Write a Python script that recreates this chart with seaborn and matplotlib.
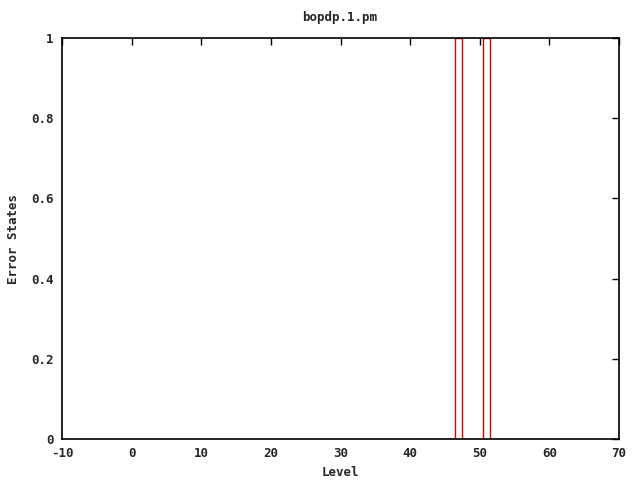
import matplotlib
matplotlib.use("Agg")
import matplotlib.pyplot as plt
import seaborn as sns
import pandas as pd

title = "bopdp.1.pm"
levels = list(range(40, 61))
errors = [0, 0, 0, 0, 0, 0, 0, 1, 0, 0, 0, 1, 0, 0, 0, 0, 0, 0, 0, 0, 0]
xticks = [-10, 0, 10, 20, 30, 40, 50, 60, 70]
yticks = [0, 0.2, 0.4, 0.6, 0.8, 1]
ytick_labels = ["0", "0.2", "0.4", "0.6", "0.8", "1"]

sns.set_style("white")
plt.rcParams["font.family"] = ["DejaVu Sans Mono"]
plt.rcParams["font.weight"] = "bold"

df = pd.DataFrame({"Level": levels, "Error States": errors})

fig = plt.figure(figsize=(6.4, 4.8), dpi=100)
ax = fig.add_axes([62 / 640, 1 - 439 / 480, 557 / 640, 401 / 480])
sns.lineplot(data=df, x="Level", y="Error States", ax=ax, color="#cc0000",
             linewidth=1.0, drawstyle="steps-mid", zorder=1)

ax.set_xlim(-10, 70)
ax.set_ylim(0, 1)
ax.set_xticks(xticks)
ax.set_xticklabels([str(t) for t in xticks])
ax.set_yticks(yticks)
ax.set_yticklabels(ytick_labels)
ax.tick_params(direction="in", length=5, width=1, top=True, right=True,
               labelsize=9, pad=6, color="black")
for lab in ax.get_xticklabels() + ax.get_yticklabels():
    lab.set_fontweight("bold")
for s in ax.spines.values():
    s.set_visible(True)
    s.set_color("black")
    s.set_linewidth(1.2)
    s.set_zorder(5)

ax.set_xlabel("")
ax.set_ylabel("")
fig.text(340 / 640, 1 - 472 / 480, "Level", ha="center", va="center",
         fontsize=9, fontweight="bold")
fig.text(14 / 640, 1 - 239 / 480, "Error States", ha="center", va="center",
         rotation=90, fontsize=9, fontweight="bold")
fig.text(340 / 640, 1 - 18 / 480, title, ha="center", va="center",
         fontsize=9, fontweight="bold")

fig.savefig("out.png", dpi=100)
